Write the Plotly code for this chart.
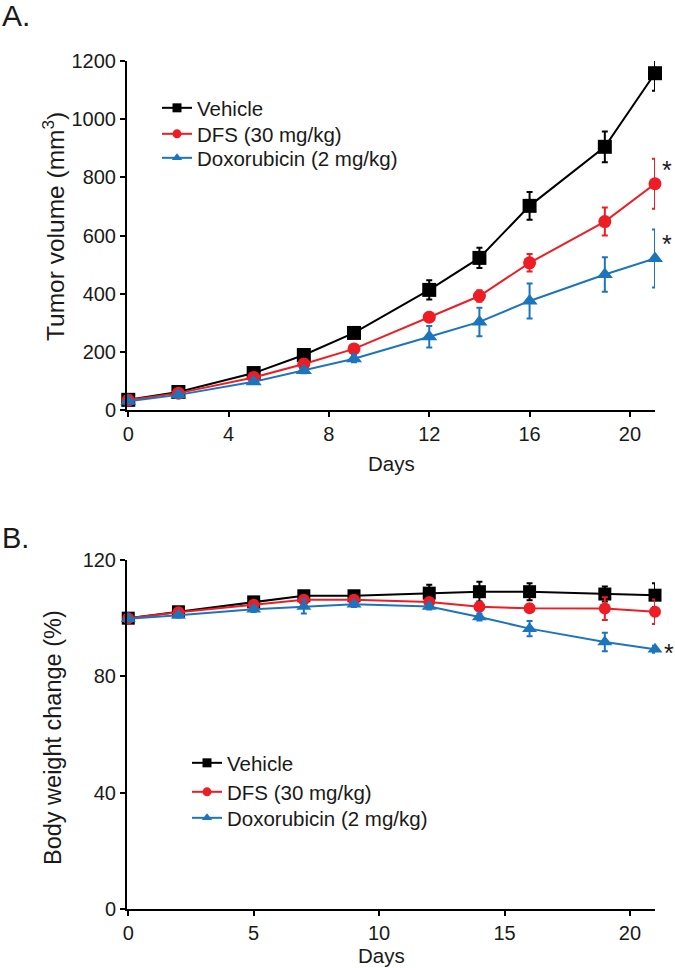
import plotly.graph_objects as go

days = [0, 2, 5, 7, 9, 12, 14, 16, 19, 21]
series_names = ["Vehicle", "DFS (30 mg/kg)", "Doxorubicin (2 mg/kg)"]

# Panel A: tumor volume (mm3)
vol_vehicle = [35, 62, 127, 189, 265, 413, 523, 702, 905, 1158]
vol_vehicle_err = [5, 7, 10, 12, 15, 33, 35, 48, 53, 60]
vol_dfs = [34, 58, 112, 158, 210, 319, 392, 506, 648, 778]
vol_dfs_err = [4, 6, 8, 10, 12, 15, 20, 30, 48, 86]
vol_dox = [30, 52, 97, 136, 176, 252, 303, 375, 466, 521]
vol_dox_err = [4, 6, 8, 10, 12, 37, 49, 60, 59, 100]

# Panel B: body weight change (%)
bw_vehicle = [100, 102.2, 105.6, 107.7, 107.7, 108.6, 109.1, 109.1, 108.3, 107.9]
bw_vehicle_err = [0.8, 0.8, 1.0, 1.0, 1.0, 2.9, 3.4, 2.9, 2.6, 4.1]
bw_dfs = [100, 102.0, 104.6, 106.3, 106.3, 105.6, 103.9, 103.4, 103.3, 102.2]
bw_dfs_err = [0.8, 0.8, 1.0, 1.0, 1.0, 1.0, 1.2, 1.2, 3.9, 4.2]
bw_dox = [99.8, 101.0, 103.1, 104.0, 104.8, 104.0, 100.4, 96.4, 91.8, 89.3]
bw_dox_err = [0.8, 0.8, 1.0, 2.4, 1.0, 1.0, 1.2, 2.6, 3.2, 1.2]

xticks_a = [0, 4, 8, 12, 16, 20]
yticks_a = [0, 200, 400, 600, 800, 1000, 1200]
xticks_b = [0, 5, 10, 15, 20]
yticks_b = [0, 40, 80, 120]

colors = ["#000000", "#EE1C25", "#1C75BC"]
symbols = ["square", "circle", "triangle-up"]
sizes_a = [14, 13, 14]
sizes_b = [13, 12, 13]
FONT = "Liberation Sans, Arial, sans-serif"
TXT = "#1a1a1a"

W, H = 675, 968

def px_x(p):
    return p / W

def px_y(p):
    return 1 - p / H

# legend row positions (px): (legend left, row centre y)
legend_rows_a = [(157, 108), (157, 134), (157, 158)]
legend_rows_b = [(187, 763), (187, 792), (187, 818)]

fig = go.Figure()

panel_a = [(vol_vehicle, vol_vehicle_err), (vol_dfs, vol_dfs_err), (vol_dox, vol_dox_err)]
panel_b = [(bw_vehicle, bw_vehicle_err), (bw_dfs, bw_dfs_err), (bw_dox, bw_dox_err)]

legend_layout = {}
leg_idx = 1
for panel, xa, ya, rows, sizes in [(panel_a, "x", "y", legend_rows_a, sizes_a),
                                   (panel_b, "x2", "y2", legend_rows_b, sizes_b)]:
    for i, (vals, errs) in enumerate(panel):
        fig.add_trace(go.Scatter(
            x=days, y=vals, mode="lines+markers", xaxis=xa, yaxis=ya,
            line=dict(color=colors[i], width=2),
            marker=dict(color=colors[i], symbol=symbols[i], size=sizes[i]),
            error_y=dict(type="data", array=errs, visible=True, color=colors[i], thickness=2, width=3),
            showlegend=False, cliponaxis=False))
    for i in range(3):
        lname = "legend" if leg_idx == 1 else f"legend{leg_idx}"
        fig.add_trace(go.Scatter(
            x=[None], y=[None], mode="lines+markers", xaxis=xa, yaxis=ya,
            name=series_names[i], legend=lname,
            line=dict(color=colors[i], width=2),
            marker=dict(color=colors[i], symbol=symbols[i], size=9),
            showlegend=True))
        lx, ly = rows[i]
        legend_layout[lname] = dict(x=px_x(lx), y=px_y(ly), xanchor="left", yanchor="middle",
                                    font=dict(family=FONT, size=20.5, color=TXT),
                                    bgcolor="rgba(0,0,0,0)", itemwidth=30)
        leg_idx += 1

axis_common = dict(showline=True, linecolor="black", linewidth=2, ticks="outside",
                   ticklen=5, tickwidth=2, tickcolor="black", showgrid=False, zeroline=False,
                   automargin=False,
                   tickfont=dict(family=FONT, size=20, color=TXT))

fig.update_layout(
    width=W, height=H, margin=dict(l=0, r=0, t=0, b=0, autoexpand=False),
    paper_bgcolor="white", plot_bgcolor="white",
    font=dict(family=FONT, color=TXT),
    xaxis=dict(domain=[px_x(127), px_x(655)], range=[-0.05, 21], tickvals=xticks_a,
               anchor="y", **axis_common),
    yaxis=dict(domain=[px_y(410), px_y(61)], range=[0, 1200], tickvals=yticks_a,
               anchor="x", **axis_common),
    xaxis2=dict(domain=[px_x(127), px_x(655)], range=[-0.05, 21], tickvals=xticks_b,
                anchor="y2", **axis_common),
    yaxis2=dict(domain=[px_y(909), px_y(560)], range=[0, 120], tickvals=yticks_b,
                anchor="x2", **axis_common),
    **legend_layout,
)

def label(text, x, y, size, angle=0, anchor="center"):
    return dict(text=text, x=px_x(x), y=px_y(y), xref="paper", yref="paper",
                xanchor=anchor, yanchor="middle", textangle=angle, showarrow=False,
                font=dict(size=size, family=FONT, color=TXT))

annotations = [
    label("A.", 0, 16, 30, anchor="left"),
    label("B.", 0, 538, 29, anchor="left"),
    label("Tumor volume (mm<sup>3</sup>)", 53, 227, 24.5, angle=-90),
    label("Body weight change (%)", 53, 738, 23.5, angle=-90),
    label("Days", 391, 463, 20.5),
    label("Days", 381, 955, 20.5),
    dict(text="*", x=days[-1], y=vol_dfs[-1], xref="x", yref="y", xshift=5, yshift=14,
         xanchor="left", showarrow=False, font=dict(size=25, family=FONT, color=TXT)),
    dict(text="*", x=days[-1], y=vol_dox[-1], xref="x", yref="y", xshift=5, yshift=14,
         xanchor="left", showarrow=False, font=dict(size=25, family=FONT, color=TXT)),
    dict(text="*", x=days[-1], y=bw_dox[-1], xref="x2", yref="y2", xshift=7, yshift=-4,
         xanchor="left", showarrow=False, font=dict(size=25, family=FONT, color=TXT)),
]
fig.update_layout(annotations=annotations)

fig.write_html("out.html", config={"displayModeBar": False},
               post_script="document.body.style.margin='0';")
